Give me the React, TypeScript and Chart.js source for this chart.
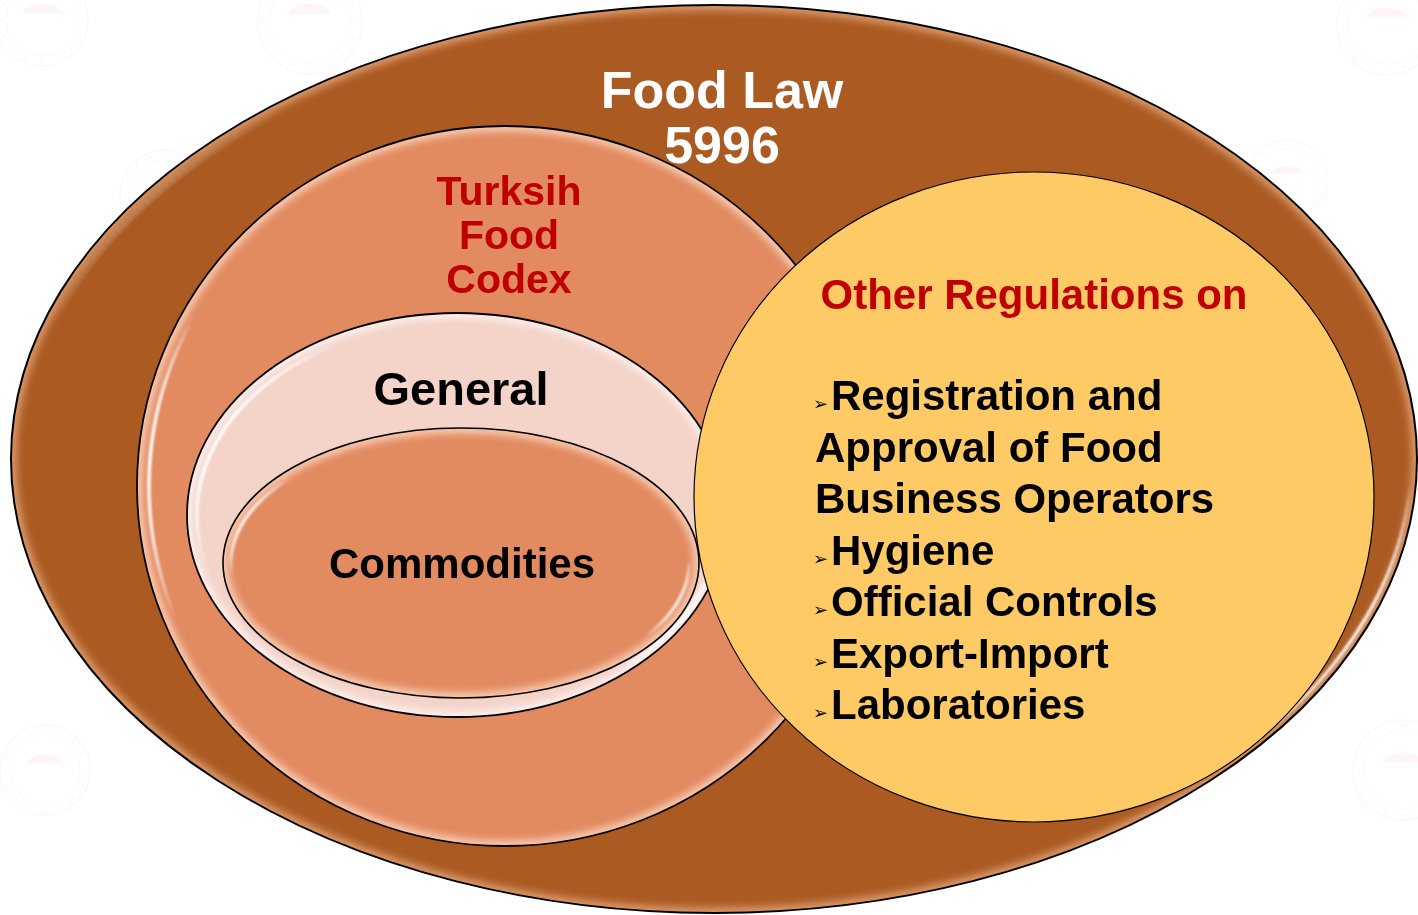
import { useEffect, useRef } from "react";
import { Chart, registerables } from "chart.js";

Chart.register(...registerables);

// ---------- DATA ----------
const shapeNames = ["Food Law 5996", "Turkish Food Codex", "General", "Commodities", "Other Regulations"];
const centerX = [714, 505, 457, 461, 1034];
const centerY = [459, 486, 515, 563, 497];
const radiusX = [703, 368, 270, 238, 340];
const radiusY = [454, 360, 202, 135, 325];

const titleLines = ["Food Law", "5996"];
const codexLines = ["Turksih", "Food", "Codex"];
const generalLabel = "General";
const commoditiesLabel = "Commodities";
const otherHeading = "Other Regulations on";
const bulletItems = [
  ["Registration and", "Approval of Food", "Business Operators"],
  ["Hygiene"],
  ["Official Controls"],
  ["Export-Import"],
  ["Laboratories"],
];

const watermarkX = [42, 310, 165, 1387, 1287, 45, 1403];
const watermarkY = [20, 22, 195, 25, 180, 770, 770];
const watermarkR = [46, 52, 45, 50, 40, 45, 50];

// ---------- STYLE ----------
const fillColors = ["#AB5B22", "#E28A60", "#F4D3C9", "#E28A60", "#FECA65"];
const glowColors = [
  "rgba(240,180,140,0.85)",
  "rgba(255,225,205,0.9)",
  "rgba(255,250,248,0.9)",
  "rgba(255,225,205,0.9)",
  "rgba(0,0,0,0)",
];
const strokeWidths = [2, 1.8, 1.8, 1.6, 1.2];
const FONT = '"Liberation Sans", Arial, sans-serif';
const RED = "#C00000";

type Arc = { s: number; a0: number; a1: number; inset: number; w: number; alpha: number };
const PI = Math.PI;
const highlightArcs: Arc[] = [
  { s: 0, a0: 0.06, a1: 0.74, inset: 6, w: 3, alpha: 0.95 },
  { s: 0, a0: PI + 0.3, a1: PI + 0.9, inset: 9, w: 7, alpha: 0.12 },
  { s: 1, a0: PI - 0.38, a1: PI + 0.5, inset: 12, w: 3.5, alpha: 1 },
  { s: 2, a0: PI - 0.3, a1: PI + 1.1, inset: 10, w: 3.5, alpha: 1 },
  { s: 2, a0: 0.28, a1: 0.9, inset: 6, w: 5, alpha: 0.9 },
  { s: 3, a0: PI - 0.08, a1: PI + 0.72, inset: 8, w: 3, alpha: 1 },
  { s: 3, a0: -0.02, a1: 0.62, inset: 10, w: 3, alpha: 0.95 },
];

function ellipsePath(ctx: CanvasRenderingContext2D, x: number, y: number, rx: number, ry: number) {
  ctx.beginPath();
  ctx.ellipse(x, y, Math.max(rx, 1), Math.max(ry, 1), 0, 0, Math.PI * 2);
}

const diagramPlugin = {
  id: "diagram",
  beforeDatasetsDraw(chart: any) {
    const ctx: CanvasRenderingContext2D = chart.ctx;
    const xs = chart.scales.x;
    const ys = chart.scales.y;
    const px = (v: number) => xs.getPixelForValue(v);
    const py = (v: number) => ys.getPixelForValue(v);
    const lenX = (v: number) => Math.abs(px(v) - px(0));
    const lenY = (v: number) => Math.abs(py(v) - py(0));

    ctx.save();
    // faint watermarks
    for (let i = 0; i < watermarkX.length; i++) {
      const x = px(watermarkX[i]);
      const y = py(watermarkY[i]);
      const r = lenX(watermarkR[i]);
      ctx.strokeStyle = "rgba(215,120,120,0.05)";
      ctx.lineWidth = 1.5;
      ellipsePath(ctx, x, y, r, r);
      ctx.stroke();
      ctx.lineWidth = 1;
      ellipsePath(ctx, x, y, r * 0.78, r * 0.78);
      ctx.stroke();
      ctx.fillStyle = "rgba(215,120,120,0.05)";
      for (let k = 0; k < 16; k++) {
        const a = (k / 16) * Math.PI * 2;
        ctx.beginPath();
        ctx.arc(x + Math.cos(a) * r * 0.89, y + Math.sin(a) * r * 0.89, 1.4, 0, Math.PI * 2);
        ctx.fill();
      }
      ctx.fillStyle = "rgba(230,110,110,0.06)";
      ctx.beginPath();
      ctx.ellipse(x, y - r * 0.15, r * 0.4, r * 0.2, 0, Math.PI, 0);
      ctx.fill();
    }

    for (let i = 0; i < shapeNames.length; i++) {
      const cx = px(centerX[i]);
      const cy = py(centerY[i]);
      const rx = lenX(radiusX[i]);
      const ry = lenY(radiusY[i]);

      ctx.save();
      ellipsePath(ctx, cx, cy, rx, ry);
      ctx.fillStyle = fillColors[i];
      ctx.fill();

      // inner soft glow
      ctx.save();
      ellipsePath(ctx, cx, cy, rx, ry);
      ctx.clip();
      ctx.filter = "blur(4px)";
      ctx.strokeStyle = glowColors[i];
      ctx.lineWidth = 9;
      ellipsePath(ctx, cx, cy, rx, ry);
      ctx.stroke();
      ctx.filter = "none";

      // glossy highlights
      for (const h of highlightArcs) {
        if (h.s !== i) continue;
        ctx.filter = "blur(1px)";
        ctx.lineWidth = h.w;
        ctx.lineCap = "butt";
        const n = 40;
        for (let k = 0; k < n; k++) {
          const t0 = h.a0 + ((h.a1 - h.a0) * k) / n;
          const t1 = h.a0 + ((h.a1 - h.a0) * (k + 1)) / n + 0.002;
          const mid = (k + 0.5) / n;
          const a = h.alpha * Math.pow(Math.sin(Math.PI * mid), 0.8);
          ctx.strokeStyle = `rgba(255,255,255,${a.toFixed(3)})`;
          ctx.beginPath();
          ctx.ellipse(cx, cy, rx - h.inset, ry - h.inset, 0, t0, t1);
          ctx.stroke();
        }
        ctx.filter = "none";
      }
      ctx.restore();

      ellipsePath(ctx, cx, cy, rx, ry);
      ctx.strokeStyle = "#000";
      ctx.lineWidth = strokeWidths[i];
      ctx.stroke();
      ctx.restore();
    }

    // ---------- TEXT ----------
    ctx.textAlign = "center";
    ctx.textBaseline = "alphabetic";

    ctx.fillStyle = "#FFFFFF";
    ctx.font = `bold 52px ${FONT}`;
    ctx.fillText(titleLines[0], px(722), py(108));
    ctx.fillText(titleLines[1], px(722), py(163));

    ctx.fillStyle = RED;
    ctx.font = `bold 41px ${FONT}`;
    codexLines.forEach((t, k) => ctx.fillText(t, px(509), py(205 + k * 44)));

    ctx.fillStyle = "#000";
    ctx.font = `bold 47px ${FONT}`;
    ctx.fillText(generalLabel, px(461), py(405));

    ctx.font = `bold 42px ${FONT}`;
    ctx.fillText(commoditiesLabel, px(462), py(578));

    ctx.fillStyle = RED;
    ctx.font = `bold 42px ${FONT}`;
    ctx.fillText(otherHeading, px(1034), py(309));

    ctx.textAlign = "left";
    let line = 0;
    for (const item of bulletItems) {
      item.forEach((t, k) => {
        const base = py(410 + line * 51.5);
        ctx.fillStyle = "#000";
        if (k === 0) {
          ctx.font = `18px "DejaVu Sans", sans-serif`;
          ctx.fillText("\u27A2", px(813), base);
          ctx.font = `bold 42px ${FONT}`;
          ctx.fillText(t, px(831), base);
        } else {
          ctx.font = `bold 42px ${FONT}`;
          ctx.fillText(t, px(815), base);
        }
        line++;
      });
    }
    ctx.restore();
  },
};

export default function App() {
  const canvasRef = useRef<HTMLCanvasElement | null>(null);

  useEffect(() => {
    document.body.style.margin = "0";
    document.body.style.background = "#FFFFFF";
    const canvas = canvasRef.current;
    if (!canvas) return;
    const chart = new Chart(canvas, {
      type: "scatter",
      data: {
        datasets: [
          {
            label: "shapes",
            data: centerX.map((x, i) => ({ x, y: centerY[i] })),
            pointRadius: 0,
            pointHoverRadius: 0,
          },
        ],
      },
      options: {
        animation: false,
        responsive: false,
        events: [],
        layout: { padding: 0 },
        plugins: { legend: { display: false }, tooltip: { enabled: false } },
        scales: {
          x: { type: "linear", min: 0, max: 1418, display: false },
          y: { type: "linear", min: 0, max: 915, reverse: true, display: false },
        },
      },
      plugins: [diagramPlugin],
    });
    return () => chart.destroy();
  }, []);

  return (
    <div style={{ width: 1418, height: 915, background: "#FFFFFF" }}>
      <canvas ref={canvasRef} width={1418} height={915} style={{ display: "block" }} />
    </div>
  );
}
